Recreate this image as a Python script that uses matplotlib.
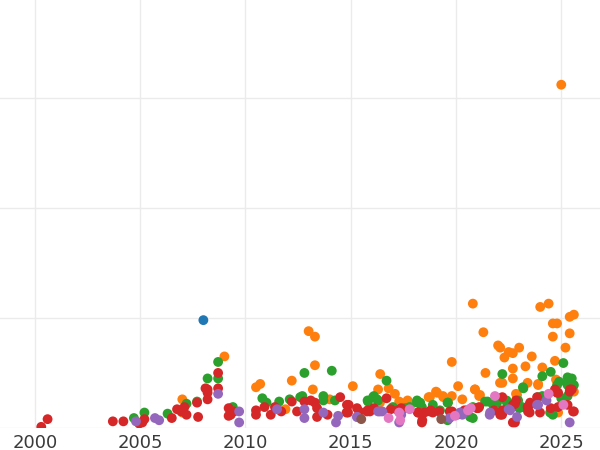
import matplotlib
matplotlib.use("Agg")
import matplotlib.pyplot as plt

# values (year, value); grid spacing on y = 100
blue_x = [2008.0]
blue_y = [98]

orange_x = [2025.0, 2020.8, 2024.0, 2024.4, 2024.6, 2024.8, 2025.4, 2025.6, 2025.4, 2024.6,
            2025.2, 2021.3, 2022.0, 2022.1, 2022.5, 2022.7, 2023.0, 2022.3, 2023.6, 2023.3,
            2022.7, 2024.1, 2024.7, 2019.8, 2021.4, 2020.1, 2020.9, 2020.3, 2021.1, 2019.05,
            2018.7, 2019.4, 2019.8, 2017.7, 2017.3, 2022.7, 2023.9, 2023.4, 2022.2, 2024.75,
            2025.6, 2022.85, 2024.85, 2013.0, 2013.3, 2013.3, 2013.2, 2014.0, 2015.1, 2016.3,
            2016.4, 2016.8, 2017.1, 2007.0, 2007.0, 2009.0, 2010.5, 2010.7, 2011.9, 2012.2,
            2018.76, 2019.1, 2019.38, 2017.34, 2017.72, 2016.39, 2020.9, 2021.14, 2022.09, 2023.9,
            2022.9]
orange_y = [312, 113, 110, 113, 95, 95, 101, 103, 86, 83,
            73, 87, 75, 73, 69, 68, 73, 64, 65, 56,
            54, 55, 61, 60, 50, 38, 35, 26, 29, 33,
            28, 28, 29, 25, 24, 45, 39, 41, 41, 44,
            33, 31, 14, 88, 83, 57, 35, 26, 38, 35,
            49, 36, 31, 26, 14, 65, 37, 40, 17, 43,
            28, 32, 29, 23, 24, 23, 35, 30, 41, 40,
            30]

green_x = [2004.7, 2005.2, 2006.3, 2007.2, 2007.7, 2008.2, 2008.7, 2008.7, 2009.4, 2010.8,
           2011.0, 2011.6, 2012.1, 2012.6, 2012.8, 2014.1, 2012.7, 2013.7, 2013.7, 2014.25,
           2015.8, 2016.1, 2016.3, 2016.7, 2017.0, 2018.15, 2018.3, 2019.6, 2018.9, 2021.5,
           2017.8, 2020.8, 2021.95, 2025.1, 2022.2, 2024.1, 2024.5, 2025.3, 2025.5, 2024.9,
           2025.3, 2023.2, 2025.6, 2025.3, 2025.0, 2024.1, 2022.4, 2024.6, 2023.0, 2019.6,
           2020.8, 2016.06, 2016.25, 2015.82, 2016.96, 2017.58, 2018.15, 2018.38, 2019.24, 2019.62,
           2023.18, 2023.9, 2021.38, 2021.76, 2022.42, 2022.95, 2023.14, 2020.52, 2020.67, 2024.47,
           2024.8, 2025.27]
green_y = [9, 14, 13, 22, 24, 45, 60, 45, 19, 27,
           23, 24, 26, 28, 50, 52, 29, 29, 25, 25,
           25, 29, 25, 43, 19, 25, 23, 23, 21, 24,
           19, 19, 23, 59, 49, 47, 51, 46, 45, 42,
           39, 36, 39, 29, 27, 29, 25, 12, 18, 7,
           9, 28, 26, 24, 18, 18, 23, 19, 16, 23,
           37, 28, 24, 21, 23, 25, 19, 16, 10, 14,
           39, 41]

red_x = [2000.3, 2000.6, 2003.7, 2004.2, 2005.1, 2005.2, 2004.95, 2006.5, 2006.75, 2007.1,
         2006.95, 2007.2, 2007.7, 2007.75, 2008.1, 2008.2, 2008.2, 2008.2, 2008.7, 2008.7,
         2009.2, 2009.3, 2009.45, 2009.2, 2010.5, 2010.5, 2010.9, 2011.2, 2011.4, 2012.2,
         2012.45, 2011.7, 2012.8, 2013.1, 2013.3, 2013.4, 2014.5, 2013.4, 2013.9, 2014.9,
         2014.8, 2015.3, 2015.8, 2016.1, 2016.7, 2016.9, 2017.4, 2018.2, 2018.5, 2018.8,
         2018.9, 2018.4, 2020.4, 2021.0, 2021.1, 2019.7, 2025.5, 2025.4, 2024.7, 2024.85,
         2023.85, 2022.2, 2022.85, 2023.4, 2023.5, 2022.8, 2024.5, 2025.3, 2025.6, 2022.7,
         2023.5, 2022.3, 2022.1, 2021.8, 2019.2, 2015.4,
         2014.82, 2014.87, 2015.77, 2015.91, 2017.24, 2018.19, 2018.38, 2018.76, 2019.81, 2020.05,
         2024.8, 2025.42, 2021.05, 2022.19, 2022.71, 2022.19, 2023.52, 2023.42, 2023.99, 2022.8,
         2024.85, 2025.56]
red_y = [1, 8, 6, 6, 5, 8, 4, 9, 17, 19,
         15, 12, 23, 10, 36, 35, 26, 32, 50, 36,
         18, 12, 15, 11, 16, 12, 19, 12, 19, 24,
         15, 15, 24, 25, 23, 18, 28, 10, 12, 21,
         14, 18, 16, 18, 27, 17, 18, 14, 14, 16,
         14, 7, 16, 18, 19, 15, 35, 33, 35, 32,
         28, 28, 25, 19, 21, 22, 18, 21, 15, 5,
         14, 16, 12, 16, 15, 15,
         21, 14, 15, 15, 16, 14, 5, 15, 15, 12,
         32, 35, 18, 16, 21, 12, 23, 15, 14, 5,
         19, 15]

purple_x = [2004.8, 2005.7, 2005.9, 2008.7, 2009.7, 2009.7, 2011.5, 2012.8, 2012.8, 2013.7,
            2014.3, 2014.4, 2015.3, 2016.3, 2016.5, 2017.3, 2017.4, 2019.7, 2020.3, 2021.6,
            2022.5, 2023.85, 2024.3, 2022.9, 2025.4, 2016.39, 2015.3, 2020.19, 2021.62, 2022.57,
            2023.9]
purple_y = [6, 9, 7, 31, 15, 5, 17, 17, 9, 14,
            5, 11, 10, 15, 15, 5, 12, 9, 12, 12,
            17, 21, 25, 10, 5, 15, 10, 14, 14, 16,
            21]

brown_x = [2015.5, 2019.3]
brown_y = [8, 8]

pink_x = [2016.8, 2017.3, 2017.8, 2019.95, 2020.7, 2021.85, 2024.4, 2025.1, 2017.35, 2020.57]
pink_y = [9, 14, 17, 11, 18, 29, 31, 21, 7, 16]

series = [
    (blue_x, blue_y, "tab:blue"),
    (orange_x, orange_y, "tab:orange"),
    (green_x, green_y, "tab:green"),
    (red_x, red_y, "tab:red"),
    (purple_x, purple_y, "tab:purple"),
    (brown_x, brown_y, "tab:brown"),
    (pink_x, pink_y, "tab:pink"),
]

fig = plt.figure(figsize=(6, 4.5), dpi=100)
ax = fig.add_axes([0, 0.049, 1, 0.951])

for xs, ys, c in series:
    ax.scatter(xs, ys, s=50, color=c, edgecolors="none", zorder=3)

ax.set_xlim(1998.34, 2026.84)
ax.set_ylim(0, 389)
ax.set_xticks([2000, 2005, 2010, 2015, 2020, 2025])
ax.set_yticks([0, 100, 200, 300])
ax.set_yticklabels([])
ax.tick_params(axis="x", length=0, pad=4, labelsize=13, labelcolor="#3a3a3a")
ax.tick_params(axis="y", length=0)
ax.grid(True, color="#ebebeb", linewidth=1.0, zorder=0)
ax.set_axisbelow(True)
for sp in ax.spines.values():
    sp.set_visible(False)

fig.savefig("out.png", dpi=100)
